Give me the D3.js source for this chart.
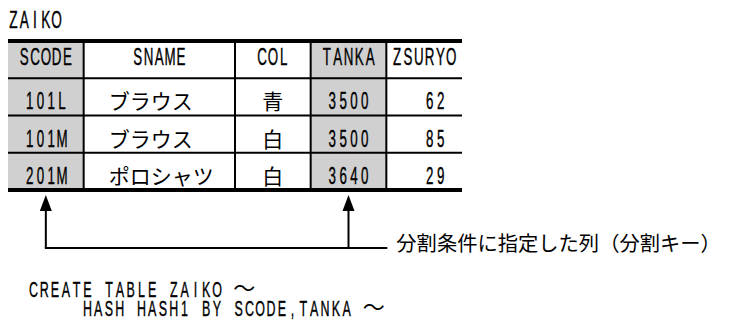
<!DOCTYPE html>
<html><head><meta charset="utf-8">
<script src="https://cdn.jsdelivr.net/npm/d3@7"></script>
<style>body{margin:0;background:#fff}</style></head>
<body>
<script>
// ---- data ----
const tableName = "ZAIKO";
const columns = ["SCODE", "SNAME", "COL", "TANKA", "ZSURYO"];
const keyColumns = ["SCODE", "TANKA"];
const scode = ["101L", "101M", "201M"];
const sname = ["ブラウス", "ブラウス", "ポロシャツ"];
const col = ["青", "白", "白"];
const tanka = [3500, 3500, 3640];
const zsuryo = [62, 85, 29];
const keyLabel = "分割条件に指定した列（分割キー）";
const codeLines = ["CREATE TABLE ZAIKO ～", "HASH HASH1 BY SCODE,TANKA ～"];

// ---- layout ----
const W = 729, H = 327;
const PITCH = 10.8, SX = 0.58, LSIZE = 23;
const LATIN = "'Liberation Sans', Arial, sans-serif";
const CJK = "'Noto Sans CJK JP', 'Noto Sans CJK SC', sans-serif";
const spans = {SCODE: 1, SNAME: 2, COL: 1, TANKA: 1, ZSURYO: 1};
const rowsData = scode.map((d, i) => ({SCODE: d, SNAME: sname[i], COL: col[i], TANKA: String(tanka[i]), ZSURYO: String(zsuryo[i])}));

const svg = d3.select("body").append("svg").attr("width", W).attr("height", H)
  .style("background", "#fff");

const totalUnits = d3.sum(columns, c => spans[c]);
const x = d3.scaleLinear().domain([0, totalUnits]).range([8, 462]);
let acc = 0;
const colPos = {};
columns.forEach(c => { colPos[c] = {x0: x(acc), x1: x(acc + spans[c])}; acc += spans[c]; });
const y = d3.scaleBand().domain(["header", 0, 1, 2]).range([41, 190]);

function isWide(ch) { return ch.charCodeAt(0) > 0x2000; }

// half-width monospace run drawn with compressed sans glyphs; wide chars in CJK font
function monoText(parent, str, x0, baseline, size) {
  const chars = Array.from(str);
  let pos = x0;
  let run = [], runStart = x0;
  const flush = () => {
    if (!run.length) return;
    const s = run.join("");
    parent.append("text")
      .attr("transform", `translate(${runStart},${baseline}) scale(${SX},1)`)
      .attr("x", run.map((c, i) => ((i + 0.5) * PITCH / SX).toFixed(2)).join(" "))
      .attr("text-anchor", "middle")
      .attr("font-family", LATIN).attr("font-size", size || LSIZE).attr("fill", "#000")
      .attr("stroke", "#000").attr("stroke-width", 0.4)
      .text(s);
    run = [];
  };
  chars.forEach(ch => {
    if (isWide(ch)) {
      flush();
      parent.append("text").attr("x", pos).attr("y", baseline - 1)
        .attr("font-family", CJK).attr("font-size", 22).attr("fill", "#000").text(ch);
      pos += PITCH * 2;
      runStart = pos;
    } else {
      if (!run.length) runStart = pos;
      run.push(ch);
      pos += PITCH;
    }
  });
  flush();
}

// title
monoText(svg, tableName, 8, 28, 23.5);

// key column fills
const gFill = svg.append("g");
keyColumns.forEach(c => {
  gFill.append("rect").attr("x", colPos[c].x0).attr("y", y("header"))
    .attr("width", colPos[c].x1 - colPos[c].x0).attr("height", y(2) + y.bandwidth() - y("header"))
    .attr("fill", "#d0d0d0");
});

// grid lines
const gLines = svg.append("g").attr("stroke", "#000");
columns.slice(1).forEach(c => {
  gLines.append("line").attr("x1", colPos[c].x0).attr("x2", colPos[c].x0)
    .attr("y1", y("header")).attr("y2", y(2) + y.bandwidth()).attr("stroke-width", 2);
});
[0, 1, 2].forEach(r => {
  gLines.append("line").attr("x1", x(0)).attr("x2", x(totalUnits))
    .attr("y1", y(r)).attr("y2", y(r)).attr("stroke-width", 2);
});
gLines.append("line").attr("x1", x(0)).attr("x2", x(totalUnits))
  .attr("y1", y("header")).attr("y2", y("header")).attr("stroke-width", 4);
gLines.append("line").attr("x1", x(0)).attr("x2", x(totalUnits))
  .attr("y1", y(2) + y.bandwidth()).attr("y2", y(2) + y.bandwidth()).attr("stroke-width", 4);

// header texts
const gText = svg.append("g");
columns.forEach(c => {
  const cx = (colPos[c].x0 + colPos[c].x1) / 2;
  monoText(gText, c, cx - c.length * PITCH / 2, y("header") + 24);
});

// body texts
rowsData.forEach((row, i) => {
  const base = y(i) + 31;
  let c = "SCODE", s = row[c];
  monoText(gText, s, (colPos[c].x0 + colPos[c].x1) / 2 - s.length * PITCH / 2, base);
  c = "SNAME";
  gText.append("text").attr("x", colPos[c].x0 + 25).attr("y", base)
    .attr("font-family", CJK).attr("font-size", 21).text(row[c]);
  c = "COL";
  gText.append("text").attr("x", (colPos[c].x0 + colPos[c].x1) / 2).attr("y", base)
    .attr("text-anchor", "middle").attr("font-family", CJK).attr("font-size", 21).text(row[c]);
  c = "TANKA"; s = row[c];
  monoText(gText, s, (colPos[c].x0 + colPos[c].x1) / 2 - s.length * PITCH / 2, base);
  c = "ZSURYO"; s = row[c];
  monoText(gText, s, colPos[c].x1 - 16 - s.length * PITCH, base);
});

// arrows
const yBottom = y(2) + y.bandwidth();
const lineY = 248;
const gArrow = svg.append("g");
keyColumns.forEach(c => {
  const cx = (colPos[c].x0 + colPos[c].x1) / 2;
  gArrow.append("path")
    .attr("d", `M${cx},${yBottom + 5}L${cx - 6},${yBottom + 21}L${cx + 6},${yBottom + 21}Z`)
    .attr("fill", "#000");
  gArrow.append("line").attr("x1", cx).attr("x2", cx).attr("y1", yBottom + 20).attr("y2", lineY)
    .attr("stroke", "#000").attr("stroke-width", 2);
});
const ax0 = (colPos[keyColumns[0]].x0 + colPos[keyColumns[0]].x1) / 2;
const ax1 = colPos[keyColumns[1]].x1 + 1;
gArrow.append("line").attr("x1", ax0 - 1).attr("x2", ax1).attr("y1", lineY).attr("y2", lineY)
  .attr("stroke", "#000").attr("stroke-width", 2);
svg.append("text").attr("x", ax1 + 9).attr("y", lineY + 3)
  .attr("font-family", CJK).attr("font-size", 20.3).text(keyLabel);

// code lines
monoText(svg, codeLines[0], 28, 296.5, 21.5);
monoText(svg, codeLines[1], 82, 316, 21.5);
</script>
</body></html>
